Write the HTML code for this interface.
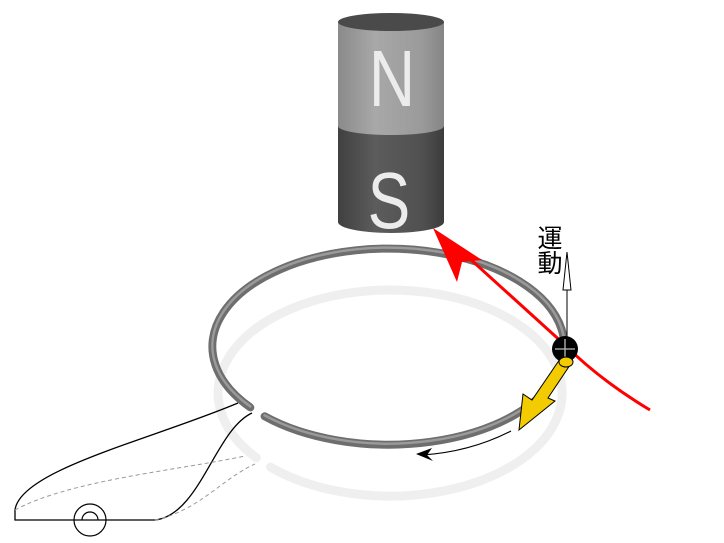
<!DOCTYPE html>
<html><head><meta charset="utf-8"><style>
html,body{margin:0;padding:0;background:#fff;width:724px;height:543px;overflow:hidden}
svg{display:block}
</style></head><body>
<svg width="724" height="543" viewBox="0 0 724 543" xmlns="http://www.w3.org/2000/svg">
<defs>
<linearGradient id="gN" x1="0" x2="1" y1="0" y2="0">
<stop offset="0" stop-color="#8a8a8a"/><stop offset="0.35" stop-color="#a8a8a8"/><stop offset="0.8" stop-color="#9a9a9a"/><stop offset="1" stop-color="#858585"/>
</linearGradient>
<linearGradient id="gS" x1="0" x2="1" y1="0" y2="0">
<stop offset="0" stop-color="#404040"/><stop offset="0.35" stop-color="#5c5c5c"/><stop offset="0.8" stop-color="#505050"/><stop offset="1" stop-color="#3c3c3c"/>
</linearGradient>
</defs>
<!-- ghost ring -->
<path d="M256.3,457.8 A172,103 0 1 1 270.5,467.1" fill="none" stroke="#efefef" stroke-width="9" stroke-linecap="round"/>
<!-- wires -->
<path d="M238,403 C150,440 20,470 15,510 L15,520 L155,520 C200,515 215,430 252,413" fill="none" stroke="#000" stroke-width="1.3"/>
<path d="M15,510 C70,480 180,470 245,456" fill="none" stroke="#999" stroke-width="1" stroke-dasharray="4,3"/>
<path d="M155,520 C200,510 220,480 255,464" fill="none" stroke="#999" stroke-width="1" stroke-dasharray="4,3"/>
<circle cx="90" cy="520" r="16" fill="none" stroke="#000" stroke-width="1.2"/>
<path d="M82,520 A8,8 0 0 1 98,520" fill="none" stroke="#000" stroke-width="1.2"/>
<!-- dark ring -->
<path d="M250.3,407.4 A176,98 0 1 1 264.6,416.3" fill="none" stroke="#6e6e6e" stroke-width="8" stroke-linecap="round"/>
<path d="M250.3,407.4 A176,98 0 1 1 264.6,416.3" fill="none" stroke="#9a9a9a" stroke-width="2.5" stroke-linecap="round" transform="translate(0,-1)"/>
<!-- magnet -->
<path d="M338,22 L338,222 A53,11 0 0 0 444,222 L444,22 Z" fill="url(#gS)"/>
<path d="M338,22 L338,126 A53,9 0 0 0 444,126 L444,22 Z" fill="url(#gN)"/>
<ellipse cx="391" cy="22" rx="53" ry="9" fill="#4a4a4a"/>
<text transform="translate(392,106) scale(0.8,1)" x="0" y="0" font-family="Liberation Sans, sans-serif" font-size="80" fill="#ececec" text-anchor="middle">N</text>
<text transform="translate(389,228) scale(0.8,1)" x="0" y="0" font-family="Liberation Sans, sans-serif" font-size="80" fill="#ececec" text-anchor="middle">S</text>
<!-- red field line -->
<path d="M650,410 Q600,380 565,345 L458,248" fill="none" stroke="#f00" stroke-width="3"/>
<path d="M433,228 L482,260 L462,262 L457,282 Z" fill="#f00"/>
<!-- small black arrow -->
<path d="M511,431 Q470,452 422,455" fill="none" stroke="#000" stroke-width="1.2"/>
<path d="M416,454 L432,448 L427,455 L433,461 Z" fill="#000"/>
<!-- motion arrow -->
<line x1="567" y1="340" x2="567" y2="288" stroke="#000" stroke-width="1"/>
<path d="M567,252 L571,290 L563,290 Z" fill="#fff" stroke="#000" stroke-width="1"/>
<text x="550" y="247" font-family="Liberation Sans, Noto Sans CJK JP, sans-serif" font-size="25" text-anchor="middle">運</text>
<text x="550" y="272" font-family="Liberation Sans, Noto Sans CJK JP, sans-serif" font-size="25" text-anchor="middle">動</text>
<!-- electron -->
<circle cx="565" cy="349" r="13" fill="#000"/>
<line x1="555" y1="349" x2="575" y2="349" stroke="#bbb" stroke-width="1.3"/>
<line x1="565" y1="339" x2="565" y2="359" stroke="#bbb" stroke-width="1.3"/>
<!-- yellow arrow -->
<path d="M560,359 L570,365 L548,398 L555,401 L519,430 L523,394 L532,400 Z" fill="#f2cc00" stroke="#000" stroke-width="1"/>
<ellipse cx="566" cy="362" rx="7" ry="5" fill="#f2cc00" stroke="#000" stroke-width="1"/>
</svg>
</body></html>
